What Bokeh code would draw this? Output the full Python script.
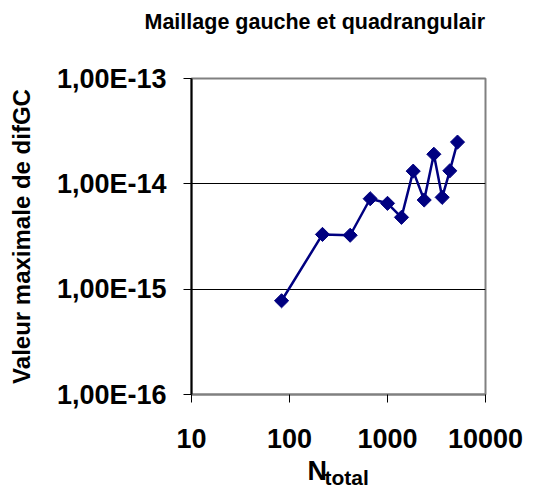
from bokeh.plotting import figure
from bokeh.models import FixedTicker, CustomJSTickFormatter, Title, Label, ColumnDataSource
from bokeh.embed import file_html
from bokeh.resources import INLINE
import math

# data
n_total = [83, 217, 416, 666, 1000, 1389, 1829, 2368, 2971, 3614, 4325, 5180]
dif_gc = [7.76e-16, 3.31e-15, 3.25e-15, 7.22e-15, 6.53e-15, 4.81e-15,
          1.32e-14, 7.02e-15, 1.91e-14, 7.44e-15, 1.33e-14, 2.49e-14]
x_ticks = [10, 100, 1000, 10000]
y_ticks = [1e-16, 1e-15, 1e-14, 1e-13]
title_text = "Maillage gauche et quadrangulair"
y_label = "Valeur maximale de difGC"
x_label_main = "N"
x_label_sub = "total"

FONT = "Liberation Sans"
NAVY = "#000080"

p = figure(width=534, height=488, x_axis_type="log", y_axis_type="log",
           x_range=(10, 10000), y_range=(1e-16, 1e-13),
           output_backend="svg", toolbar_location=None,
           min_border_left=191, min_border_right=49,
           min_border_top=78, min_border_bottom=94)

p.background_fill_color = "white"
p.border_fill_color = "white"
p.outline_line_color = "#808080"
p.outline_line_width = 2

src = ColumnDataSource(dict(x=n_total, y=dif_gc))
p.line("x", "y", source=src, line_color=NAVY, line_width=2.5)
p.scatter("x", "y", source=src, marker="square", size=10, angle=math.pi / 4,
          fill_color=NAVY, line_color=NAVY)

# axes
p.xaxis.ticker = FixedTicker(ticks=x_ticks)
p.yaxis.ticker = FixedTicker(ticks=y_ticks)
p.xaxis.formatter = CustomJSTickFormatter(code="return tick.toFixed(0);")
p.yaxis.formatter = CustomJSTickFormatter(code="""
const e = Math.round(Math.log10(tick));
return "1,00E" + (e < 0 ? "-" : "+") + String(Math.abs(e)).padStart(2, "0");
""")
for ax in (p.xaxis[0], p.yaxis[0]):
    ax.major_label_text_font = FONT
    ax.major_label_text_font_style = "bold"
    ax.major_label_text_font_size = "27px"
    ax.major_label_text_color = "black"
    ax.minor_tick_line_color = None
    ax.major_tick_in = 0
    ax.major_tick_out = 8
    ax.major_tick_line_color = "black"
p.yaxis.axis_line_color = "black"
p.yaxis.axis_line_width = 2
p.xaxis.axis_line_color = "#808080"
p.xaxis.axis_line_width = 2
p.xaxis.major_label_standoff = 26
p.yaxis.major_label_standoff = 17

p.yaxis.axis_label = y_label
p.yaxis.axis_label_text_font = FONT
p.yaxis.axis_label_text_font_style = "bold"
p.yaxis.axis_label_text_font_size = "24px"
p.yaxis.axis_label_text_color = "black"
p.yaxis.axis_label_standoff = 19

p.xgrid.grid_line_color = None
p.ygrid.grid_line_color = "black"
p.ygrid.grid_line_width = 1

# x-axis label "N" (right panel) with subscript "total" (above panel),
# both drawn at the bottom of the canvas via panel-relative screen offsets
p.add_layout(Label(x=-178, y=-76, x_units="screen", y_units="screen",
                   text=x_label_main, text_font=FONT, text_font_style="bold",
                   text_font_size="27px", text_color="black",
                   text_baseline="alphabetic"), "right")
p.add_layout(Label(x=133, y=-399, x_units="screen", y_units="screen",
                   text=x_label_sub, text_font=FONT, text_font_style="bold",
                   text_font_size="21px", text_color="black",
                   text_baseline="alphabetic"), "above")

# title, pushed up by an invisible spacer
p.add_layout(Title(text="\u00a0", text_font_size="1px", standoff=17), "above")
p.title.text = title_text
p.title.text_font = FONT
p.title.text_font_style = "bold"
p.title.text_font_size = "21.5px"
p.title.text_color = "black"
p.title.align = "left"
p.title.offset = -47
p.title.standoff = 0
p.title.vertical_align = "top"

open("out.html", "w").write(file_html(p, INLINE))
